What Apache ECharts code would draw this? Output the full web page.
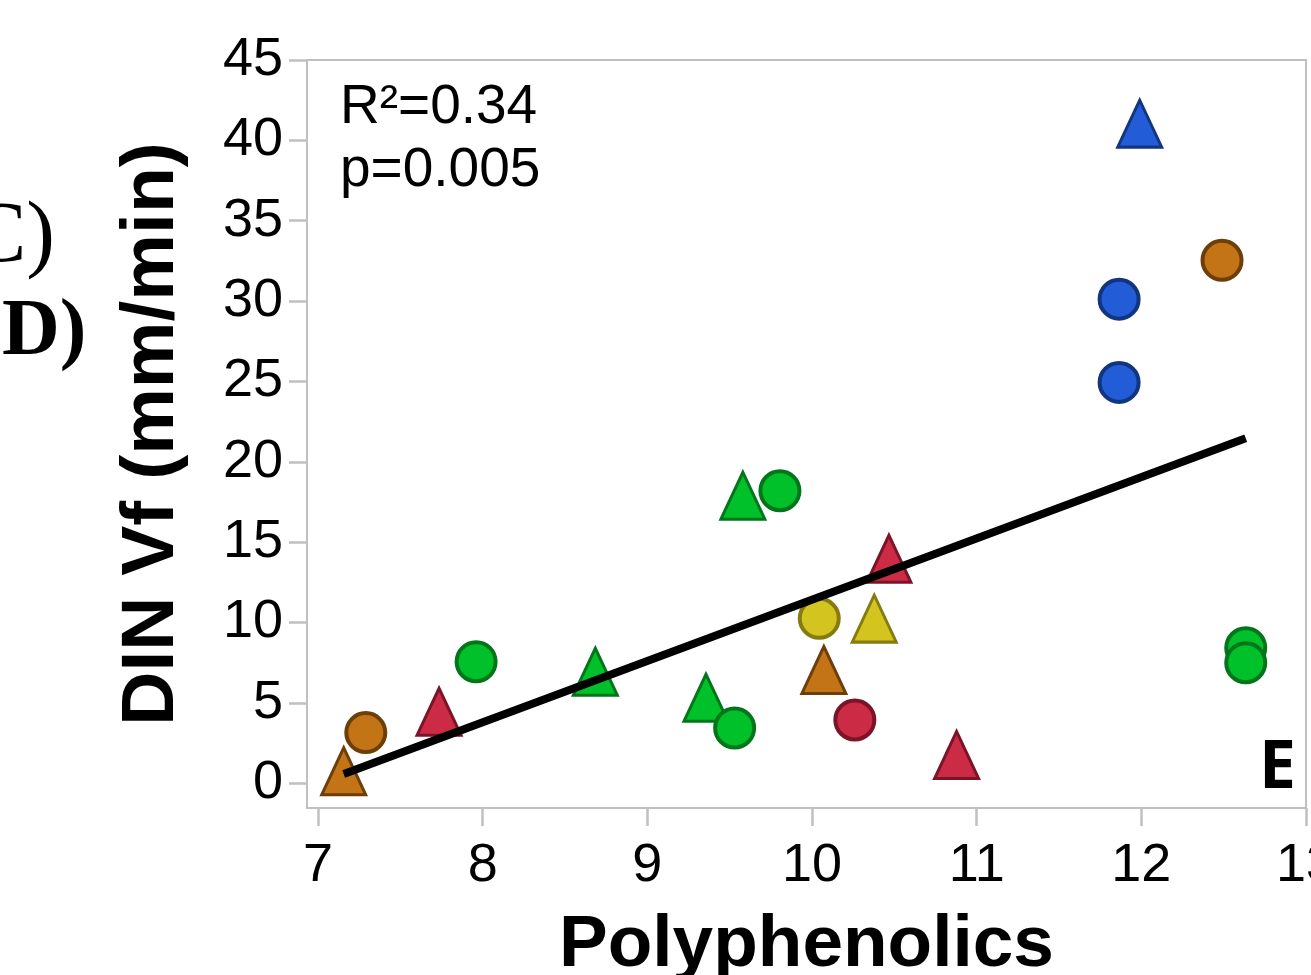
<!DOCTYPE html>
<html>
<head>
<meta charset="utf-8">
<script src="https://cdn.jsdelivr.net/npm/echarts@6/dist/echarts.min.js"></script>
<style>
html,body{margin:0;padding:0;background:#fff;}
#chart{width:1311px;height:975px;}
</style>
</head>
<body>
<div id="chart"></div>
<script>
// ---- data ----
const xTicks = [7, 8, 9, 10, 11, 12, 13];
const yTicks = [0, 5, 10, 15, 20, 25, 30, 35, 40, 45];

const greenTriangles = [[8.684, 6.94], [9.356, 5.32], [9.58, 17.89]];
const greenCircles = [[7.96, 7.56], [9.53, 3.44], [9.805, 18.2], [12.634, 8.43], [12.634, 7.5]];
const orangeTriangles = [[7.156, 0.75], [10.072, 7.05]];
const orangeCircles = [[7.29, 3.15], [12.49, 32.54]];
const redTriangles = [[7.735, 4.45], [10.467, 13.97], [10.878, 1.76]];
const redCircles = [[10.26, 3.94]];
const blueTriangles = [[11.99, 41.04]];
const blueCircles = [[11.865, 30.12], [11.865, 24.94]];
const yellowTriangles = [[10.378, 10.24]];
const yellowCircles = [[10.044, 10.26]];
const fitLine = [[7.156, 0.58], [12.634, 21.47]];

const statsText = ['R\u00B2=0.34', 'p=0.005'];
const xName = 'Polyphenolics';
const yName = 'DIN Vf (mm/min)';

// ---- styles ----
const colors = {
  green:  {fill: '#00c12a', stroke: '#00761a'},
  orange: {fill: '#c27416', stroke: '#6e3e08'},
  red:    {fill: '#cc2b45', stroke: '#7b1428'},
  blue:   {fill: '#225cd6', stroke: '#12357f'},
  yellow: {fill: '#d3c41f', stroke: '#857b0e'}
};
function circ(data, c) {
  return {type: 'scatter', data: data, symbol: 'circle', symbolSize: 39,
    itemStyle: {color: c.fill, borderColor: c.stroke, borderWidth: 4, opacity: 1}, z: 3};
}
function tri(data, c) {
  return {type: 'scatter', data: data, symbol: 'triangle', symbolSize: [44, 47],
    itemStyle: {color: c.fill, borderColor: c.stroke, borderWidth: 3, opacity: 1}, z: 2};
}
const gray = '#c0c0c0';
const chart = echarts.init(document.getElementById('chart'));
chart.setOption({
  animation: false,
  backgroundColor: '#fff',
  grid: {left: 307, right: 5, top: 60, bottom: 167, containLabel: false, outerBoundsMode: 'none',
    show: true, borderColor: gray, borderWidth: 2, backgroundColor: 'transparent'},
  xAxis: {
    type: 'value', min: 6.933, max: 13,
    name: xName, nameLocation: 'middle', nameGap: 101,
    nameTextStyle: {fontFamily: 'Liberation Sans', fontWeight: 'bold', fontSize: 73, color: '#000'},
    axisLine: {show: true, onZero: false, lineStyle: {color: gray, width: 2}},
    axisTick: {show: true, inside: false, length: 18, lineStyle: {color: gray, width: 2.5}, customValues: xTicks},
    axisLabel: {fontFamily: 'Liberation Sans', fontSize: 54, color: '#000', margin: 31, customValues: xTicks,
      showMinLabel: true, showMaxLabel: true, hideOverlap: false},
    splitLine: {show: false}
  },
  yAxis: {
    type: 'value', min: -1.54, max: 45,
    name: yName, nameLocation: 'middle', nameGap: 117, nameRotate: 90,
    nameTextStyle: {fontFamily: 'Liberation Sans', fontWeight: 'bold', fontSize: 75, color: '#000'},
    axisLine: {show: true, onZero: false, lineStyle: {color: gray, width: 2}},
    axisTick: {show: true, inside: false, length: 18, lineStyle: {color: gray, width: 2.5}, customValues: yTicks},
    axisLabel: {fontFamily: 'Liberation Sans', fontSize: 54, color: '#000', margin: 24, customValues: yTicks},
    splitLine: {show: false}
  },
  series: [
    tri(greenTriangles, colors.green),
    tri(orangeTriangles, colors.orange),
    tri(redTriangles, colors.red),
    tri(blueTriangles, colors.blue),
    tri(yellowTriangles, colors.yellow),
    circ(greenCircles, colors.green),
    circ(orangeCircles, colors.orange),
    circ(redCircles, colors.red),
    circ(blueCircles, colors.blue),
    circ(yellowCircles, colors.yellow),
    {type: 'line', data: fitLine, symbol: 'none', z: 10,
      lineStyle: {color: '#000', width: 8, cap: 'butt'}}
  ],
  graphic: [
    {type: 'text', z: 20, position: [340, 108],
      style: {text: statsText[0], font: '55px "Liberation Sans"', fill: '#000', textAlign: 'left', textVerticalAlign: 'middle'}},
    {type: 'text', z: 20, position: [340, 171],
      style: {text: statsText[1], font: '55px "Liberation Sans"', fill: '#000', textAlign: 'left', textVerticalAlign: 'middle'}},
    {type: 'text', z: 20, position: [1296, 769],
      style: {text: 'E', font: 'bold 66px "Open Sans"', fill: '#000', textAlign: 'right', textVerticalAlign: 'middle'}},
    {type: 'text', z: 20, position: [55, 238],
      style: {text: 'C)', font: '86px "Liberation Serif"', fill: '#000', textAlign: 'right', textVerticalAlign: 'middle'}},
    {type: 'text', z: 20, position: [2, 333],
      style: {text: 'D)', font: 'bold 80px "Liberation Serif"', fill: '#000', textAlign: 'left', textVerticalAlign: 'middle'}}
  ]
});
</script>
</body>
</html>
